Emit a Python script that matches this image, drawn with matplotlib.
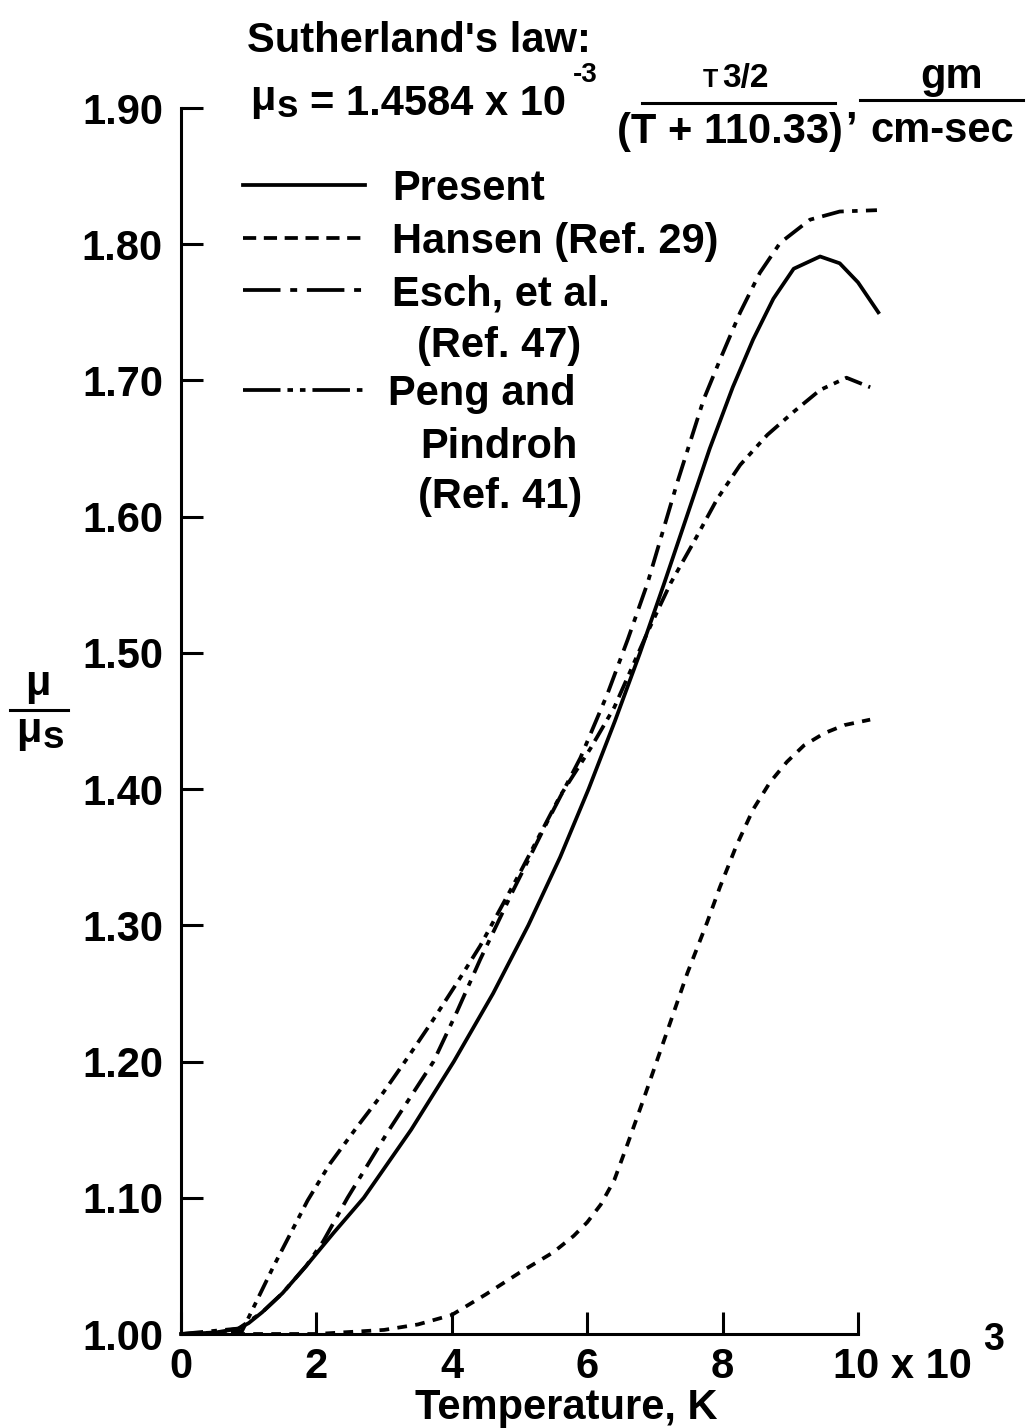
import numpy as np
import matplotlib
matplotlib.use("Agg")
import matplotlib.pyplot as plt
from matplotlib.lines import Line2D

# temperature in units of 10^3 K, viscosity ratio mu/mu_s
present_T = [0, 0.5, 0.85, 1.0, 1.2, 1.5, 1.85, 2.25, 2.7, 3.4, 4.03, 4.61, 5.13, 5.6, 6.02,
             6.41, 6.78, 7.13, 7.47, 7.81, 8.15, 8.45, 8.75, 9.05, 9.44, 9.73, 10.0, 10.3]
present_mu = [1.0, 1.001, 1.004, 1.008, 1.016, 1.03, 1.05, 1.074, 1.10, 1.15, 1.20, 1.25, 1.30,
              1.35, 1.40, 1.45, 1.50, 1.55, 1.60, 1.65, 1.695, 1.73, 1.76, 1.782, 1.791, 1.786,
              1.772, 1.75]

hansen_T = [0, 1, 2, 3, 3.5, 4.0, 4.5, 5.0, 5.5, 5.8, 6.0, 6.2, 6.4, 6.6, 6.83, 7.18, 7.48,
            7.77, 7.96, 8.2, 8.45, 8.7, 8.95, 9.2, 9.5, 9.8, 10.18]
hansen_mu = [1.0, 1.0, 1.0, 1.003, 1.007, 1.014, 1.029, 1.045, 1.06, 1.072, 1.082, 1.095, 1.113,
             1.14, 1.172, 1.222, 1.265, 1.302, 1.328, 1.358, 1.385, 1.405, 1.42, 1.432, 1.441,
             1.447, 1.451]

esch_T = [0, 0.85, 1.2, 1.5, 1.85, 2.1, 2.46, 3.05, 3.39, 3.73, 4.08, 4.42, 4.9, 5.4, 5.9,
          6.3, 6.6, 6.89, 7.33, 7.72, 7.96, 8.26, 8.55, 8.85, 9.29, 9.73, 10.28]
esch_mu = [1.0, 1.004, 1.016, 1.03, 1.05, 1.068, 1.10, 1.148, 1.174, 1.20, 1.237, 1.275, 1.325,
           1.375, 1.423, 1.47, 1.51, 1.551, 1.625, 1.686, 1.715, 1.75, 1.779, 1.801, 1.818, 1.824, 1.825]

peng_T = [0, 0.9, 1.36, 1.87, 2.2, 2.6, 2.97, 3.35, 3.69, 4.08, 4.42, 5.0, 5.6, 6.05, 6.4,
          6.89, 7.23, 7.57, 7.92, 8.26, 8.66, 9.05, 9.44, 9.83, 10.18]
peng_mu = [1.0, 1.002, 1.049, 1.098, 1.125, 1.152, 1.176, 1.203, 1.228, 1.258, 1.285, 1.338, 1.395,
           1.43, 1.46, 1.515, 1.551, 1.581, 1.613, 1.638, 1.66, 1.677, 1.693, 1.702, 1.695]

y_ticks = [1.0, 1.1, 1.2, 1.3, 1.4, 1.5, 1.6, 1.7, 1.8, 1.9]
x_ticks = [0, 2, 4, 6, 8, 10]
x_labels = ["0", "2", "4", "6", "8", ""]

plt.rcParams["font.family"] = ["Liberation Sans", "DejaVu Sans"]
plt.rcParams["font.weight"] = "bold"
plt.rcParams["lines.scale_dashes"] = False

W, H = 1030, 1428
def fx(px):
    return px / W
def fy(py):
    return 1 - py / H

fig = plt.figure(figsize=(W / 100, H / 100), dpi=100)
ax = fig.add_axes([fx(181), fy(1334), (858 - 181) / W, (1334 - 108) / H])

lw = 2.7
styles = {
    "present": dict(color="black", lw=lw, ls="-"),
    "hansen": dict(color="black", lw=lw, ls=(0, (7, 6))),
    "esch": dict(color="black", lw=lw, ls=(0, (16, 6, 4, 6))),
    "peng": dict(color="black", lw=lw, ls=(0, (13, 5, 4, 5, 4, 5))),
}
# the key samples use longer strokes than the curves
key_styles = {
    "present": dict(color="black", lw=lw, ls="-"),
    "hansen": dict(color="black", lw=lw, ls=(0, (9.5, 5.5))),
    "esch": dict(color="black", lw=lw, ls=(0, (27, 7, 5, 7))),
    "peng": dict(color="black", lw=lw, ls=(0, (27, 5, 4, 5, 4, 5))),
}

ax.plot(present_T, present_mu, clip_on=False, **styles["present"])
ax.plot(hansen_T, hansen_mu, clip_on=False, **styles["hansen"])
ax.plot(esch_T, esch_mu, clip_on=False, **styles["esch"])
ax.plot(peng_T, peng_mu, clip_on=False, **styles["peng"])

ax.set_xlim(0, 10)
ax.set_ylim(1.0, 1.9)
for s in ["top", "right"]:
    ax.spines[s].set_visible(False)
for s in ["left", "bottom"]:
    ax.spines[s].set_linewidth(2.2)
ax.set_yticks(y_ticks)
ax.set_yticklabels(["%.2f" % v for v in y_ticks])
ax.set_xticks(x_ticks)
ax.set_xticklabels(x_labels)
ax.tick_params(direction="in", length=16, width=2.2, labelsize=30)
ax.tick_params(axis="y", pad=13)
ax.tick_params(axis="x", pad=9)
for lab in ax.get_xticklabels() + ax.get_yticklabels():
    lab.set_fontweight("bold")

fs = 30
# x axis extras
fig.text(fx(833), fy(1378), "10 x 10", fontsize=fs, va="baseline", ha="left")
fig.text(fx(983), fy(1350), "3", fontsize=27, va="baseline", ha="left")
fig.text(fx(566), fy(1419), "Temperature, K", fontsize=fs, va="baseline", ha="center")

# y label mu / mu_s
fig.text(fx(38), fy(695), "\u03bc", fontsize=fs, va="baseline", ha="center")
fig.add_artist(Line2D([fx(10), fx(68)], [fy(710), fy(710)], color="black", lw=2.2))
fig.text(fx(16), fy(742), "\u03bc", fontsize=fs, va="baseline", ha="left")
fig.text(fx(43), fy(748), "s", fontsize=28, va="baseline", ha="left")

# Sutherland's law header
fig.text(fx(247), fy(52), "Sutherland's law:", fontsize=fs, va="baseline")
fig.text(fx(250), fy(110), "\u03bc", fontsize=fs, va="baseline")
fig.text(fx(277), fy(117), "s", fontsize=28, va="baseline")
fig.text(fx(310), fy(115), "= 1.4584 x 10", fontsize=fs, va="baseline")
fig.text(fx(573), fy(82), "-3", fontsize=20, va="baseline")
fig.text(fx(703), fy(87), "T", fontsize=18, va="baseline")
fig.text(fx(722), fy(87), "3/2", fontsize=24, va="baseline")
fig.add_artist(Line2D([fx(642), fx(835)], [fy(103), fy(103)], color="black", lw=2.2))
fig.text(fx(730), fy(143), "(T + 110.33)", fontsize=fs, va="baseline", ha="center")
fig.text(fx(845), fy(118), ",", fontsize=fs, va="baseline")
fig.text(fx(952), fy(88), "gm", fontsize=fs, va="baseline", ha="center")
fig.add_artist(Line2D([fx(860), fx(1023)], [fy(100), fy(100)], color="black", lw=2.2))
fig.text(fx(942), fy(142), "cm-sec", fontsize=fs, va="baseline", ha="center")

# legend
legend_rows = [
    ("present", 185, 392, 200, "Present"),
    ("hansen", 238, 392, 253, "Hansen (Ref. 29)"),
    ("esch", 290, 392, 305, "Esch, et al."),
    (None, None, 417, 357, "(Ref. 47)"),
    ("peng", 390, 388, 405, "Peng and"),
    (None, None, 420, 458, "Pindroh"),
    (None, None, 418, 508, "(Ref. 41)"),
]
for key, ly, tx, ty, label in legend_rows:
    if key is not None:
        fig.add_artist(Line2D([fx(243), fx(365)], [fy(ly), fy(ly)], **key_styles[key]))
    fig.text(fx(tx), fy(ty), label, fontsize=fs, va="baseline")

fig.savefig("out.png", dpi=100)
